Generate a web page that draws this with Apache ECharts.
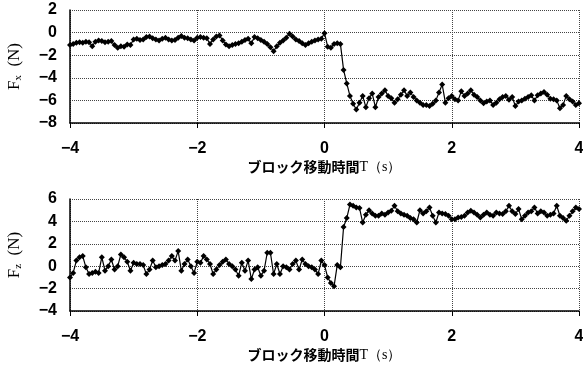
<!DOCTYPE html>
<html lang="ja">
<head>
<meta charset="UTF-8">
<title>Fx / Fz</title>
<script src="https://cdn.jsdelivr.net/npm/echarts@6/dist/echarts.min.js"></script>
<style>
  html, body { margin: 0; padding: 0; background: #fff; }
  #main { width: 583px; height: 368px; }
</style>
</head>
<body>
<div id="main"></div>
<script>
// sample times (s)
var times = [
  -4.00, -3.95, -3.90, -3.85, -3.80, -3.75, -3.70, -3.65, -3.60, -3.55,
  -3.50, -3.45, -3.40, -3.35, -3.30, -3.25, -3.20, -3.15, -3.10, -3.05,
  -3.00, -2.95, -2.90, -2.85, -2.80, -2.75, -2.70, -2.65, -2.60, -2.55,
  -2.50, -2.45, -2.40, -2.35, -2.30, -2.25, -2.20, -2.15, -2.10, -2.05,
  -2.00, -1.95, -1.90, -1.85, -1.80, -1.75, -1.70, -1.65, -1.60, -1.55,
  -1.50, -1.45, -1.40, -1.35, -1.30, -1.25, -1.20, -1.15, -1.10, -1.05,
  -1.00, -0.95, -0.90, -0.85, -0.80, -0.75, -0.70, -0.65, -0.60, -0.55,
  -0.50, -0.45, -0.40, -0.35, -0.30, -0.25, -0.20, -0.15, -0.10, -0.05,
   0.00,  0.05,  0.10,  0.15,  0.20,  0.25,  0.30,  0.35,  0.40,  0.45,
   0.50,  0.55,  0.60,  0.65,  0.70,  0.75,  0.80,  0.85,  0.90,  0.95,
   1.00,  1.05,  1.10,  1.15,  1.20,  1.25,  1.30,  1.35,  1.40,  1.45,
   1.50,  1.55,  1.60,  1.65,  1.70,  1.75,  1.80,  1.85,  1.90,  1.95,
   2.00,  2.05,  2.10,  2.15,  2.20,  2.25,  2.30,  2.35,  2.40,  2.45,
   2.50,  2.55,  2.60,  2.65,  2.70,  2.75,  2.80,  2.85,  2.90,  2.95,
   3.00,  3.05,  3.10,  3.15,  3.20,  3.25,  3.30,  3.35,  3.40,  3.45,
   3.50,  3.55,  3.60,  3.65,  3.70,  3.75,  3.80,  3.85,  3.90,  3.95,
   4.00
];

// Fx (N)
var fx = [
  -1.1, -1.0, -0.9, -0.85, -0.9, -0.8, -0.85, -1.2, -0.8, -0.7,
  -0.75, -0.85, -0.8, -0.75, -1.1, -1.35, -1.2, -1.25, -1.05, -1.1,
  -0.6, -0.55, -0.65, -0.6, -0.4, -0.35, -0.5, -0.6, -0.7, -0.55,
  -0.45, -0.6, -0.7, -0.65, -0.45, -0.3, -0.45, -0.5, -0.6, -0.7,
  -0.45, -0.4, -0.45, -0.5, -1.0, -0.6, -0.35, -0.25, -0.7, -1.05,
  -1.2, -1.1, -1.0, -0.95, -0.8, -0.65, -0.55, -0.95, -0.4, -0.5,
  -0.65, -0.8, -1.0, -1.3, -1.65, -1.2, -0.9, -0.7, -0.45, -0.1,
  -0.35, -0.6, -0.75, -0.95, -1.1, -0.95, -0.8, -0.7, -0.6, -0.55,
  -0.05, -1.25, -1.35, -1.0, -0.95, -1.0, -3.3, -4.5, -5.6, -6.3,
  -6.8, -6.2, -5.6, -6.6, -5.8, -5.4, -6.6, -5.7, -5.4, -5.1,
  -5.6, -5.8, -6.2, -5.9, -5.5, -5.1, -5.6, -5.3, -5.7, -6.0,
  -6.2, -6.4, -6.4, -6.5, -6.3, -6.0, -5.3, -4.6, -6.2, -5.8,
  -5.6, -5.9, -6.0, -5.2, -5.6, -5.4, -5.1, -5.5, -5.7, -6.0,
  -6.25, -6.1, -6.0, -6.4, -6.2, -5.9, -5.7, -5.6, -5.95, -5.7,
  -6.5, -6.1, -6.0, -5.85, -5.7, -5.55, -6.0, -5.55, -5.4, -5.25,
  -5.5, -5.85, -5.9, -6.0, -6.7, -6.4, -5.6, -5.9, -6.1, -6.4,
  -6.25
];

// Fz (N)
var fz = [
  -1.0, -0.6, 0.5, 0.8, 0.9, -0.1, -0.7, -0.6, -0.5, -0.6,
  0.8, -0.4, 0.0, 0.6, -0.3, 0.0, 1.05, 0.8, 0.4, -0.4,
  0.3, 0.2, 0.2, 0.1, -0.7, -0.3, 0.5, -0.1, 0.0, 0.1,
  0.2, 0.5, 0.9, 0.5, 1.35, -0.4, 0.2, 0.6, 0.0, -0.6,
  0.4, 0.3, 0.9, 0.6, 0.2, -0.7, -0.3, 0.1, 0.4, 0.6,
  0.2, 0.0, -0.3, -0.85, 0.3, -0.4, 0.5, -1.15, -0.3, -0.1,
  -0.85, -0.4, 1.2, 1.2, -0.7, 0.2, -0.7, 0.0, -0.1, -0.3,
  0.2, 0.5, -0.3, 0.6, 0.2, 0.0, -0.1, -0.3, -0.7, 0.5,
  0.1, -1.0, -1.5, -1.8, 0.1, -0.1, 3.5, 4.3, 5.5, 5.4,
  5.25, 5.2, 3.9, 4.6, 5.0, 4.7, 4.5, 4.5, 4.7, 4.6,
  4.8, 4.95, 5.4, 4.9, 4.7, 4.6, 4.5, 4.3, 4.2, 3.9,
  5.0, 4.7, 4.9, 5.25, 4.5, 3.9, 4.8, 4.7, 4.65, 4.5,
  4.2, 4.2, 4.35, 4.4, 4.5, 4.8, 4.95, 4.8, 4.6, 4.35,
  4.6, 4.8, 4.6, 4.5, 4.8, 4.7, 4.65, 4.9, 5.4, 4.9,
  4.65, 5.1, 4.2, 4.5, 4.8, 4.9, 5.25, 4.7, 4.9, 4.8,
  4.5, 4.6, 4.7, 5.4, 4.5, 4.3, 4.05, 4.5, 4.9, 5.25,
  5.1
];

function pairs(ys) {
  return times.map(function (t, i) { return [t, ys[i]]; });
}

var tickFont = { fontFamily: '"Liberation Sans Narrow", "Liberation Sans", sans-serif', fontWeight: 'bold', fontSize: 16, color: '#000' };
function minus(v) { return String(v).replace('-', '\u2212'); }

var xTitleRich = {
  a: { fontFamily: '"Noto Sans CJK JP", sans-serif', fontWeight: 'bold', fontSize: 14, color: '#000' },
  b: { fontFamily: '"Liberation Serif", serif', fontSize: 14, color: '#000' }
};
var yTitleRich = {
  a: { fontFamily: '"Liberation Serif", serif', fontSize: 17, color: '#000' },
  s: { fontFamily: '"Liberation Serif", serif', fontSize: 11, color: '#000', padding: [8, 0, 0, 0] }
};

var dotted = { color: '#444', type: 'dotted', width: 1 };

function xAxis(idx) {
  return {
    type: 'value', gridIndex: idx, min: -4, max: 4, interval: 2,
    name: '{a|ブロック移動時間}{b|T（s）}',
    nameLocation: 'middle', nameGap: 37,
    nameTextStyle: { rich: xTitleRich },
    axisLine: { onZero: false, lineStyle: { color: '#000', width: 1.5 } },
    axisTick: { show: true, length: 5, lineStyle: { color: '#000' } },
    axisLabel: Object.assign({ margin: 18, formatter: minus }, tickFont),
    splitLine: { show: true, lineStyle: dotted }
  };
}

function yAxis(idx, min, max, sub) {
  return {
    type: 'value', gridIndex: idx, min: min, max: max, interval: 2,
    name: '{a|F}{s|' + sub + '}{a|  (N)}',
    nameLocation: 'middle', nameGap: 46, nameRotate: 90,
    nameTextStyle: { rich: yTitleRich },
    axisLine: { show: true, onZero: false, lineStyle: { color: '#000', width: 1.5 } },
    axisTick: { show: false },
    axisLabel: Object.assign({ margin: 13, formatter: minus }, tickFont),
    splitLine: { show: true, lineStyle: dotted }
  };
}

function series(idx, ys) {
  return {
    type: 'line', xAxisIndex: idx, yAxisIndex: idx,
    data: pairs(ys),
    symbol: 'diamond', symbolSize: 6,
    itemStyle: { color: '#000' },
    lineStyle: { color: '#000', width: 1.2 },
    animation: false
  };
}

var chart = echarts.init(document.getElementById('main'), null, { renderer: 'canvas' });
chart.setOption({
  backgroundColor: '#fff',
  animation: false,
  grid: [
    { left: 70, top: 10, width: 509, height: 113, outerBoundsMode: 'none' },
    { left: 70, top: 199, width: 509, height: 112, outerBoundsMode: 'none' }
  ],
  xAxis: [xAxis(0), xAxis(1)],
  yAxis: [yAxis(0, -8, 2, 'x'), yAxis(1, -4, 6, 'z')],
  series: [series(0, fx), series(1, fz)]
});
</script>
</body>
</html>
